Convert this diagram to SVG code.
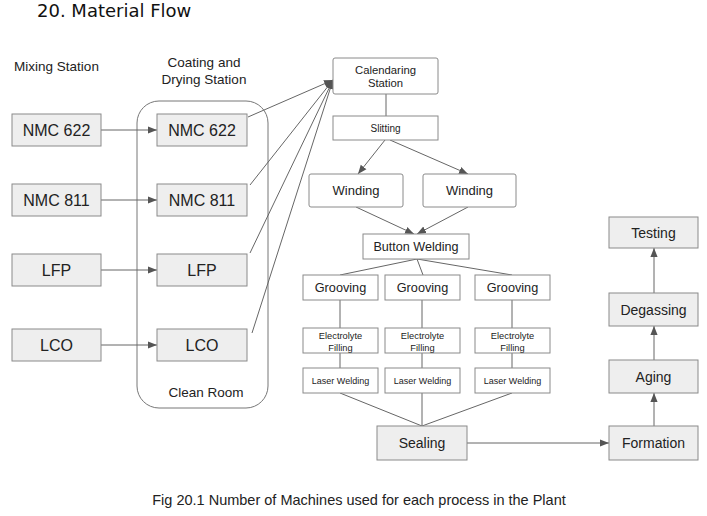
<svg xmlns="http://www.w3.org/2000/svg" width="707" height="516" viewBox="0 0 707 516">
<style>
.t{font-family:"Liberation Sans",Arial,sans-serif;fill:#222;text-anchor:middle}
.g{fill:#eeeeee;stroke:#8a8a8a;stroke-width:1}
.w{fill:#ffffff;stroke:#8a8a8a;stroke-width:1}
.c{stroke:#666;stroke-width:1;fill:none}
.ca{stroke:#666;stroke-width:1;fill:none;marker-end:url(#ah)}
</style>
<defs>
<marker id="ah" viewBox="0 0 10 10" refX="10" refY="5" markerWidth="9" markerHeight="9" markerUnits="userSpaceOnUse" orient="auto">
<path d="M0,1 L10,5 L0,9 z" fill="#555"/>
</marker>
</defs>
<rect width="707" height="516" fill="#ffffff"/>
<text x="37" y="17" style="font-family:'DejaVu Sans',Verdana,sans-serif;font-size:18px;fill:#111">20. Material Flow</text>
<text x="56.5" y="71" class="t" font-size="13.5">Mixing Station</text>
<text x="204" y="67" class="t" font-size="13.5">Coating and</text>
<text x="204" y="84" class="t" font-size="13.5">Drying Station</text>
<g id="cleanroom">
<rect x="137" y="101" width="131" height="307" rx="22" fill="none" stroke="#777"/>
<text x="206" y="397" class="t" font-size="13.5">Clean Room</text>
</g>
<g id="connectors">
<line class="ca" x1="101" y1="130" x2="157" y2="130"/>
<line class="ca" x1="101" y1="200" x2="157" y2="200"/>
<line class="ca" x1="101" y1="270" x2="157" y2="270"/>
<line class="ca" x1="101" y1="345" x2="157" y2="345"/>
<line class="ca" x1="248" y1="117" x2="333" y2="80"/>
<line class="ca" x1="250" y1="185" x2="333" y2="80"/>
<line class="ca" x1="250" y1="253" x2="333" y2="80"/>
<line class="ca" x1="252" y1="333" x2="333" y2="80"/>
<line class="c" x1="386" y1="94" x2="386" y2="116"/>
<line class="ca" x1="385" y1="140" x2="358" y2="174"/>
<line class="ca" x1="390" y1="140" x2="468" y2="174"/>
<line class="ca" x1="356" y1="207" x2="414" y2="234"/>
<line class="ca" x1="468" y1="207" x2="417" y2="234"/>
<line class="c" x1="417" y1="259" x2="340" y2="275"/>
<line class="c" x1="417" y1="259" x2="423" y2="275"/>
<line class="c" x1="417" y1="259" x2="512" y2="275"/>
<line class="c" x1="340" y1="300" x2="340" y2="328"/>
<line class="c" x1="422" y1="300" x2="422" y2="328"/>
<line class="c" x1="512" y1="300" x2="512" y2="328"/>
<line class="c" x1="340" y1="353" x2="340" y2="368"/>
<line class="c" x1="422" y1="353" x2="422" y2="368"/>
<line class="c" x1="512" y1="353" x2="512" y2="368"/>
<line class="c" x1="340" y1="393" x2="422" y2="426"/>
<line class="c" x1="422" y1="393" x2="422" y2="426"/>
<line class="c" x1="512" y1="393" x2="422" y2="426"/>
<line class="ca" x1="467" y1="443" x2="609" y2="443"/>
<line class="ca" x1="654" y1="426" x2="654" y2="393"/>
<line class="ca" x1="654" y1="360" x2="654" y2="326"/>
<line class="ca" x1="654" y1="293" x2="654" y2="248"/>
</g>
<g id="mix-nmc622"><rect class="g" x="12" y="114" width="89" height="32"/><text x="56.5" y="136" class="t" font-size="16">NMC 622</text></g>
<g id="mix-nmc811"><rect class="g" x="12" y="184" width="89" height="32"/><text x="56.5" y="206" class="t" font-size="16">NMC 811</text></g>
<g id="mix-lfp"><rect class="g" x="12" y="254" width="89" height="32"/><text x="56.5" y="276" class="t" font-size="16">LFP</text></g>
<g id="mix-lco"><rect class="g" x="12" y="329" width="89" height="32"/><text x="56.5" y="351" class="t" font-size="16">LCO</text></g>
<g id="coat-nmc622"><rect class="g" x="157" y="114" width="90" height="32"/><text x="202" y="136" class="t" font-size="16">NMC 622</text></g>
<g id="coat-nmc811"><rect class="g" x="157" y="184" width="90" height="32"/><text x="202" y="206" class="t" font-size="16">NMC 811</text></g>
<g id="coat-lfp"><rect class="g" x="157" y="254" width="90" height="32"/><text x="202" y="276" class="t" font-size="16">LFP</text></g>
<g id="coat-lco"><rect class="g" x="157" y="329" width="90" height="32"/><text x="202" y="351" class="t" font-size="16">LCO</text></g>
<g id="calendaring"><rect class="w" x="333" y="58" width="105" height="36" rx="2"/><text x="385.5" y="74" class="t" font-size="11.3">Calendaring</text><text x="385.5" y="87" class="t" font-size="11.3">Station</text></g>
<g id="slitting"><rect class="w" x="333" y="116" width="105" height="24"/><text x="385.5" y="132" class="t" font-size="10">Slitting</text></g>
<g id="winding1"><rect class="w" x="309" y="174" width="94" height="33" rx="2"/><text x="356" y="195" class="t" font-size="13">Winding</text></g>
<g id="winding2"><rect class="w" x="423" y="174" width="93" height="33" rx="2"/><text x="469.5" y="195" class="t" font-size="13">Winding</text></g>
<g id="button-welding"><rect class="w" x="363" y="234" width="106" height="25"/><text x="416" y="251" class="t" font-size="12.6">Button Welding</text></g>
<g id="grooving1"><rect class="w" x="303" y="275" width="75" height="25"/><text x="340.5" y="292" class="t" font-size="12.7">Grooving</text></g>
<g id="grooving2"><rect class="w" x="385" y="275" width="75" height="25"/><text x="422.5" y="292" class="t" font-size="12.7">Grooving</text></g>
<g id="grooving3"><rect class="w" x="475" y="275" width="75" height="25"/><text x="512.5" y="292" class="t" font-size="12.7">Grooving</text></g>
<g id="electrolyte1"><rect class="w" x="303" y="328" width="75" height="25"/><text x="340.5" y="338.5" class="t" font-size="9.3">Electrolyte</text><text x="340.5" y="350.5" class="t" font-size="9.3">Filling</text></g>
<g id="electrolyte2"><rect class="w" x="385" y="328" width="75" height="25"/><text x="422.5" y="338.5" class="t" font-size="9.3">Electrolyte</text><text x="422.5" y="350.5" class="t" font-size="9.3">Filling</text></g>
<g id="electrolyte3"><rect class="w" x="475" y="328" width="75" height="25"/><text x="512.5" y="338.5" class="t" font-size="9.3">Electrolyte</text><text x="512.5" y="350.5" class="t" font-size="9.3">Filling</text></g>
<g id="laser1"><rect class="w" x="303" y="368" width="75" height="25"/><text x="340.5" y="384" class="t" font-size="9">Laser Welding</text></g>
<g id="laser2"><rect class="w" x="385" y="368" width="75" height="25"/><text x="422.5" y="384" class="t" font-size="9">Laser Welding</text></g>
<g id="laser3"><rect class="w" x="475" y="368" width="75" height="25"/><text x="512.5" y="384" class="t" font-size="9">Laser Welding</text></g>
<g id="sealing"><rect class="g" x="377" y="426" width="90" height="34"/><text x="422" y="448" class="t" font-size="14">Sealing</text></g>
<g id="formation"><rect class="g" x="609" y="426" width="89" height="34"/><text x="653.5" y="448" class="t" font-size="14">Formation</text></g>
<g id="aging"><rect class="g" x="609" y="360" width="89" height="33"/><text x="653.5" y="382" class="t" font-size="14">Aging</text></g>
<g id="degassing"><rect class="g" x="609" y="293" width="89" height="33"/><text x="653.5" y="315" class="t" font-size="14">Degassing</text></g>
<g id="testing"><rect class="g" x="609" y="217" width="89" height="31"/><text x="653.5" y="238" class="t" font-size="14">Testing</text></g>
<text x="359" y="505" class="t" font-size="14.5">Fig 20.1 Number of Machines used for each process in the Plant</text>
</svg>
